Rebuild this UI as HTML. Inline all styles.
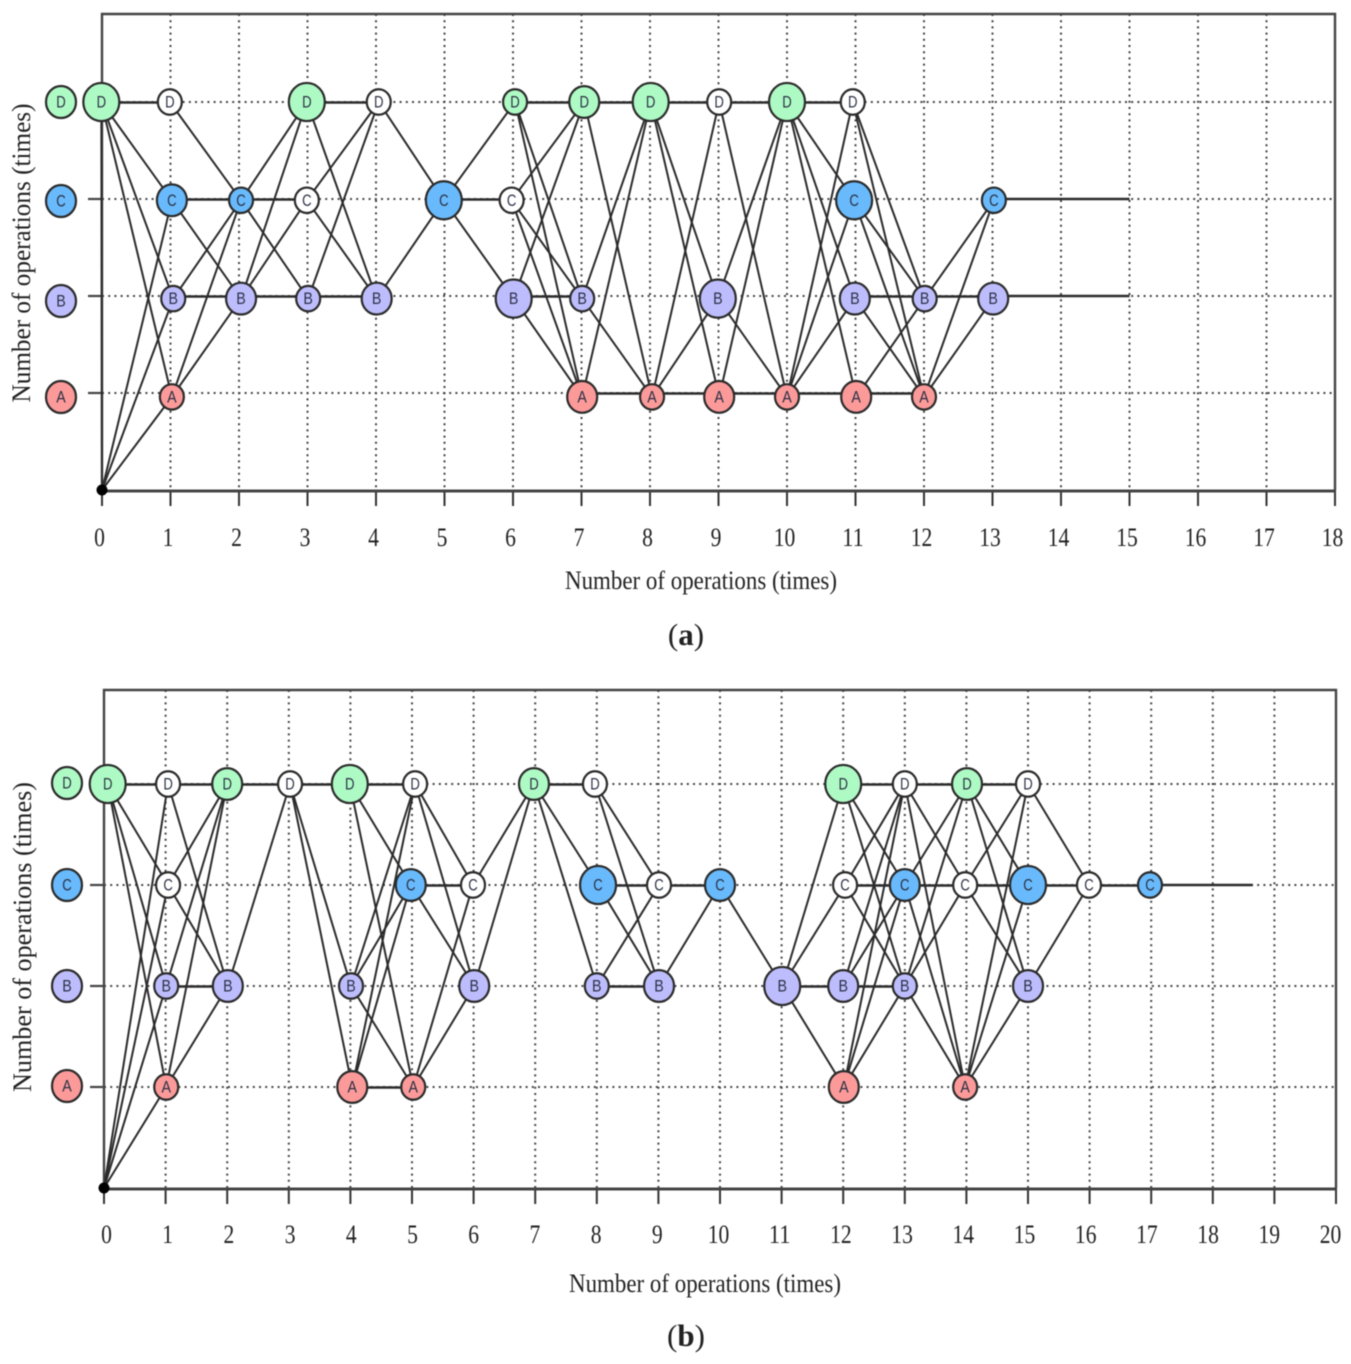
<!DOCTYPE html>
<html lang="en">
<head>
<meta charset="utf-8">
<title>Operation sequence network charts</title>
<style>
html,body{margin:0;padding:0;background:#fff;width:1351px;height:1364px;overflow:hidden}
svg{display:block;filter:blur(.45px)}
text{font-family:"Liberation Serif",serif;fill:#222}
.node-label{font-family:"Liberation Sans",sans-serif;font-size:17px;fill:#2c3145;text-anchor:middle;dominant-baseline:central}
.tick{font-size:26px;text-anchor:middle}
</style>
</head>
<body>
<svg id="figure" xmlns="http://www.w3.org/2000/svg" width="1351" height="1364" viewBox="0 0 1351 1364">
  <g id="chart-a"></g>
  <g id="chart-b"></g>
  <text x="701" y="589" font-size="26" text-anchor="middle" textLength="272" lengthAdjust="spacingAndGlyphs">Number of operations (times)</text>
  <text transform="translate(30,253) rotate(-90)" font-size="26" text-anchor="middle" textLength="299" lengthAdjust="spacingAndGlyphs">Number of operations (times)</text>
  <text x="686" y="645" font-size="31" text-anchor="middle">(<tspan font-weight="bold">a</tspan>)</text>
  <text x="705" y="1292" font-size="26" text-anchor="middle" textLength="272" lengthAdjust="spacingAndGlyphs">Number of operations (times)</text>
  <text transform="translate(31,937) rotate(-90)" font-size="26" text-anchor="middle" textLength="310" lengthAdjust="spacingAndGlyphs">Number of operations (times)</text>
  <text x="686" y="1346" font-size="31" text-anchor="middle">(<tspan font-weight="bold">b</tspan>)</text>
</svg>
<script>
// Shared categories
const machines = ['A', 'B', 'C', 'D'];

// Chart (a): tick labels
const ticksA = [0,1,2,3,4,5,6,7,8,9,10,11,12,13,14,15,16,17,18];
// Chart (a): nodes as [machine, operation count, load class, active flag]
const nodesA = [
  ['D',-0.01,3,1],['D',0.99,1,0],['D',2.99,3,1],['D',4.04,1,0],['D',6.03,1,1],['D',7.04,2,1],['D',8.01,3,1],['D',9.01,1,0],['D',10,3,1],['D',10.96,1,0],
  ['C',1.02,2,1],['C',2.03,1,1],['C',2.99,1,0],['C',4.99,3,1],['C',5.98,1,0],['C',10.98,3,1],['C',13.02,1,1],
  ['B',1.04,1,1],['B',2.03,2,1],['B',3.01,1,1],['B',4.01,2,1],['B',6.01,3,1],['B',7.01,1,1],['B',8.99,3,1],['B',10.99,2,1],['B',12.01,1,1],['B',13.01,2,1],
  ['A',1.02,1,1],['A',7.01,2,1],['A',8.03,1,1],['A',9.01,2,1],['A',10,1,1],['A',11.01,2,1],['A',12,1,1]
];
// Chart (a): transitions between nodes
const edgesA = ['O-D0','O-C1','O-B1','O-A1','D0-D1','D0-C1','D0-B1','D0-A1','D1-C2','C1-C2','C1-B2','B1-C2','B1-B2','A1-C2','A1-B2',
  'C2-C3','C2-D3','C2-B3','B2-D3','B2-C3','B2-B3','B3-D4','C3-D4','C3-B4','D3-B4','D3-D4','B3-B4','D4-C5','B4-C5','C5-D6','C5-C6','C5-B6',
  'D6-D7','D6-B7','D6-A7','C6-B7','C6-A7','C6-D7','B6-A7','B6-B7','B6-D7','B7-D8','A7-D8','D7-A8','B7-A8','A7-A8','D7-D8',
  'D8-D9','D8-B9','D8-A9','A8-B9','A8-A9','D9-A10','D9-A8','B9-D10','A9-D10','B9-A10','A9-A10','D9-D10','D10-C11','D10-B11','D10-A11','A10-C11','A10-D11','A10-B11','D10-D11','A10-A11',
  'C11-B12','C11-A12','D11-B12','D11-A12','B11-A12','A11-B12','B11-B12','A11-A12','B12-B13','B12-C13','A12-C13','A12-B13'];
// Chart (a): schedule tails as [node, end operation count]
const tailsA = [['C13',15],['B13',15]];

// Chart (b): tick labels
const ticksB = [0,1,2,3,4,5,6,7,8,9,10,11,12,13,14,15,16,17,18,19,20];
// Chart (b): nodes as [machine, operation count, load class, active flag]
const nodesB = [
  ['D',0.06,3,1],['D',1.04,1,0],['D',2,2,1],['D',3.02,1,0],['D',3.99,3,1],['D',5.05,1,0],['D',6.98,2,1],['D',7.97,1,0],['D',12,3,1],['D',13,1,0],['D',14.01,2,1],['D',15,1,0],
  ['C',1.04,1,0],['C',4.98,2,1],['C',5.99,1,0],['C',8.02,3,1],['C',9.01,1,0],['C',10,2,1],['C',12.03,1,0],['C',13,2,1],['C',13.98,1,0],['C',15,3,1],['C',15.99,1,0],['C',16.98,1,1],
  ['B',1.01,1,1],['B',2.01,2,1],['B',4.01,1,1],['B',6.01,2,1],['B',8,1,1],['B',9.01,2,1],['B',11.01,3,1],['B',12,2,1],['B',13,1,1],['B',15,2,1],
  ['A',1.01,1,1],['A',4.03,2,1],['A',5.02,1,1],['A',12.01,2,1],['A',13.98,1,1]
];
// Chart (b): transitions between nodes
const edgesB = ['O-D1','O-C1','O-B1','O-A1','D0-D1','D0-C1','D0-B1','D0-A1','D1-D2','D1-B2','C1-B2','C1-D2','B1-D2','B1-B2','A1-D2','A1-B2','D2-D3','B2-D3',
  'D3-D4','D3-B4','D3-A4','D4-D5','D4-C5','D4-A5','D5-B4','D5-A4','D5-C6','D5-B6','B4-C5','A4-C5','B4-A5','C5-B6','C5-C6','A5-C6','A5-B6','A4-A5','C6-D7','B6-D7',
  'D7-C8','D7-B8','D7-D8','D8-C9','D8-B9','C8-C9','C8-B9','B8-C9','B8-B9','C9-C10','B9-C10','C10-B11','B11-D12','B11-C12','B11-B12','B11-A12',
  'D12-D13','D12-C13','D12-B13','C12-D13','C12-C13','C12-B13','B12-D13','B12-C13','B12-B13','A12-D13','A12-C13','A12-B13',
  'D13-D14','D13-C14','D13-A14','C13-D14','C13-C14','C13-A14','B13-D14','B13-C14','B13-A14',
  'D14-D15','D14-C15','D14-B15','C14-C15','C14-D15','C14-B15','A14-D15','A14-C15','A14-B15','D15-C16','C15-C16','B15-C16','C16-C17'];
// Chart (b): schedule tails as [node, end operation count]
const tailsB = [['C17',18.65]];

const SVGNS = 'http://www.w3.org/2000/svg';
const fills = {A:'#fc9a9a', B:'#bdbdfd', C:'#68bafc', D:'#aefac4'};

function mk(parent, tag, attrs, text) {
  const el = document.createElementNS(SVGNS, tag);
  for (const k in attrs) el.setAttribute(k, attrs[k]);
  if (text !== undefined) el.textContent = text;
  parent.appendChild(el);
  return el;
}

function radius(load) { return 9 + load * 3; }

function drawChart(rootId, geom, ticks, nodes, edges, tails, legendCx, legendYs) {
  const root = document.getElementById(rootId);
  const xScale = t => geom.x0 + t * geom.dx;
  const levelOf = m => machines.indexOf(m) + 1;
  const gridY = m => geom.y0 - levelOf(m) * geom.dy;
  const nodeY = m => gridY(m) + (4 - levelOf(m)) * geom.drift;
  const maxT = ticks[ticks.length - 1];

  // Grid
  ticks.forEach(t => {
    if (t === 0) return;
    const g = mk(root, 'line', {x1:xScale(t), x2:xScale(t), y1:geom.top, y2:geom.y0, stroke:'#444', 'stroke-width':2, 'stroke-dasharray':'2 4.2'});
    
    
    const tk = mk(root, 'line', {x1:xScale(t), x2:xScale(t), y1:geom.y0, y2:geom.y0 + 16, stroke:'#333', 'stroke-width':2});
    
    
  });
  const tk0 = mk(root, 'line', {x1:xScale(0), x2:xScale(0), y1:geom.y0, y2:geom.y0 + 16, stroke:'#333', 'stroke-width':2});
  
  

  machines.forEach(m => {
    const g = mk(root, 'line', {x1:xScale(0), x2:xScale(maxT), y1:gridY(m), y2:gridY(m), stroke:'#444', 'stroke-width':2, 'stroke-dasharray':'2 4.2'});
    
    
    const s = mk(root, 'line', {x1:xScale(0) - 14, x2:xScale(0), y1:gridY(m), y2:gridY(m), stroke:'#444', 'stroke-width':2.2});
    
    
  });

  // Frame
  const frame = mk(root, 'path', {d:'M' + xScale(0) + ' ' + geom.y0 + 'V' + geom.top + 'H' + xScale(maxT) + 'V' + geom.y0, fill:'none', stroke:'#444', 'stroke-width':2.4});
  
  
  const xAxis = mk(root, 'line', {x1:xScale(0), x2:xScale(maxT), y1:geom.y0 + 1, y2:geom.y0 + 1, stroke:'#444', 'stroke-width':3});
  
  

  // Node lookup
  const lookup = {};
  nodes.forEach(n => { lookup[n[0] + Math.round(n[1])] = n; });
  const px = id => id === 'O' ? xScale(0) : xScale(lookup[id][1]);
  const py = id => id === 'O' ? geom.y0 : nodeY(lookup[id][0]);

  // Edges
  edges.forEach(e => {
    const parts = e.split('-');
    const a = parts[0], b = parts[1];
    const flat = a !== 'O' && a[0] === b[0];
    const y1 = flat ? gridY(a[0]) + 0.5 : py(a);
    const y2 = flat ? gridY(a[0]) + 0.5 : py(b);
    const l = mk(root, 'line', {x1:px(a), y1:y1, x2:px(b), y2:y2, stroke:'#2b2b2b', 'stroke-width':flat ? 2.6 : 2});
    
    
  });
  tails.forEach(t => {
    const l = mk(root, 'line', {x1:px(t[0]), y1:gridY(t[0][0]), x2:xScale(t[1]), y2:gridY(t[0][0]), stroke:'#2b2b2b', 'stroke-width':2.4});
    
    
  });

  // Origin
  const dot = mk(root, 'circle', {cx:xScale(0), cy:geom.y0, r:5.5, fill:'#000'});
  
  

  // Nodes
  nodes.forEach(n => {
    const r = radius(n[2]);
    const c = mk(root, 'ellipse', {cx:xScale(n[1]), cy:nodeY(n[0]), rx:r, ry:r * 1.06, fill:n[3] ? fills[n[0]] : '#fff', stroke:'#2b2b2b', 'stroke-width':2.2});
    
    
    const tx = mk(root, 'text', {x:xScale(n[1]), y:nodeY(n[0]), class:'node-label', textLength:9.5, lengthAdjust:'spacingAndGlyphs'}, n[0]);
    
    
  });

  // Legend
  machines.forEach((m, i) => {
    const c = mk(root, 'ellipse', {cx:legendCx, cy:legendYs[i], rx:15, ry:16, fill:fills[m], stroke:'#2b2b2b', 'stroke-width':2.2});
    
    
    const tx = mk(root, 'text', {x:legendCx, y:legendYs[i], class:'node-label', textLength:9.5, lengthAdjust:'spacingAndGlyphs'}, m);
    
    
  });

  // Tick labels
  ticks.forEach(t => {
    const tx = mk(root, 'text', {x:geom.labelX0 + t * geom.labelDx, y:geom.labelY, class:'tick', textLength:String(t).length * 10.8, lengthAdjust:'spacingAndGlyphs'}, t);
    
    
  });
}

drawChart('chart-a', {x0:102, dx:68.5, y0:490, dy:97, drift:1.3, top:14, labelY:546, labelX0:99.5, labelDx:68.5}, ticksA, nodesA, edgesA, tailsA, 61, [397,301,201,102]);
drawChart('chart-b', {x0:104, dx:61.6, y0:1188, dy:101, drift:0, top:690, labelY:1243, labelX0:106.5, labelDx:61.2}, ticksB, nodesB, edgesB, tailsB, 67, [1086,986,885,783]);
</script>
</body>
</html>
